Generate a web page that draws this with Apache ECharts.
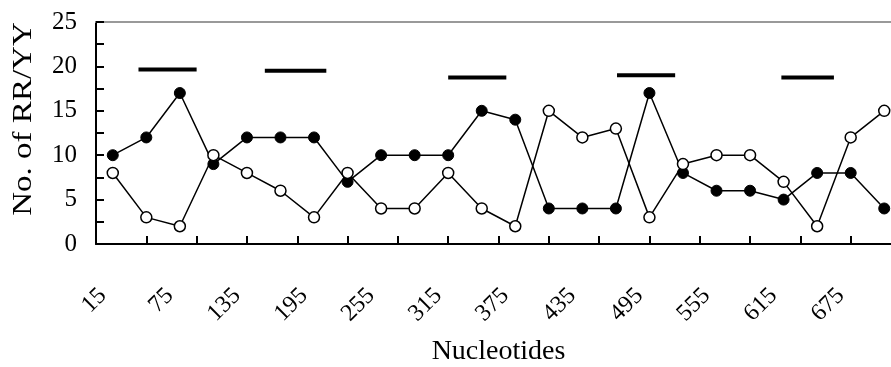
<!DOCTYPE html>
<html>
<head>
<meta charset="utf-8">
<script src="https://cdn.jsdelivr.net/npm/echarts@6/dist/echarts.min.js"></script>
<style>html,body{margin:0;padding:0;background:#fff;}#c{width:891px;height:367px;}</style>
</head>
<body>
<div id="c"></div>
<script>
// Nucleotide positions (category centres)
var positions = [15,45,75,105,135,165,195,225,255,285,315,345,375,405,435,465,495,525,555,585,615,645,675,705];
// Filled circles
var filledValues = [10,12,17,9,12,12,12,7,10,10,10,15,14,4,4,4,17,8,6,6,5,8,8,4];
// Open circles
var openValues = [8,3,2,10,8,6,3,8,4,4,8,4,2,15,12,13,3,9,10,10,7,2,12,15];
// Horizontal bars (nucleotide ranges and level)
var barStarts = [38,151,315,466,613];
var barEnds = [90,206,367,518,660];
var barLevels = [19.65,19.5,18.75,19.0,18.75];
// Axis tick labels
var xTickLabels = positions.map(String);
var yTicks = [0,5,10,15,20,25];

var FONT = 'Liberation Serif';
var chart = echarts.init(document.getElementById('c'));

var series = [];
for (var b = 0; b < barStarts.length; b++) {
  series.push({
    type: 'line', xAxisIndex: 0, yAxisIndex: 0, symbol: 'none', silent: true,
    data: [[barStarts[b], barLevels[b]], [barEnds[b], barLevels[b]]],
    lineStyle: {color: '#000', width: 4, cap: 'butt'}
  });
}
series.push({
  type: 'line', xAxisIndex: 0, yAxisIndex: 0, symbol: 'circle', symbolSize: 11,
  data: positions.map(function (p, i) { return [p, filledValues[i]]; }),
  lineStyle: {color: '#000', width: 1.5},
  itemStyle: {color: '#000', borderColor: '#000', borderWidth: 1}
});
series.push({
  type: 'line', xAxisIndex: 0, yAxisIndex: 0, symbol: 'circle', symbolSize: 11,
  data: positions.map(function (p, i) { return [p, openValues[i]]; }),
  lineStyle: {color: '#000', width: 1.5},
  itemStyle: {color: '#fff', borderColor: '#000', borderWidth: 1.5}
});
// invisible series to bind the label-only category axis on its grid
series.push({
  type: 'line', xAxisIndex: 3, yAxisIndex: 1, symbol: 'none', silent: true,
  data: xTickLabels.map(function () { return '-'; }), lineStyle: {opacity: 0}
});

chart.setOption({
  animation: false,
  backgroundColor: '#fff',
  grid: [
    {left: 96, top: 22, right: -10, bottom: 123, containLabel: false, outerBoundsMode: 'none'},
    {left: 86, top: 22, right: 0, bottom: 123, containLabel: false, outerBoundsMode: 'none'}
  ],
  xAxis: [
    {
      gridIndex: 0, type: 'value', min: 0, max: 720, interval: 45, position: 'bottom',
      axisLine: {show: true, onZero: false, lineStyle: {color: '#000', width: 2}},
      axisTick: {show: true, inside: true, length: 8, lineStyle: {color: '#000', width: 2}},
      axisLabel: {show: false}, splitLine: {show: false},
      name: 'Nucleotides', nameLocation: 'middle', nameGap: 94,
      nameTextStyle: {fontFamily: FONT, fontSize: 28, color: '#000'}
    },
    {
      gridIndex: 0, type: 'value', min: 0, max: 720, position: 'top',
      axisLine: {show: true, onZero: false, lineStyle: {color: '#999', width: 2}},
      axisTick: {show: false}, axisLabel: {show: false}, splitLine: {show: false}
    },
    {
      gridIndex: 0, type: 'value', min: 0, max: 720, position: 'top', show: false
    },
    {
      gridIndex: 1, type: 'category', data: xTickLabels, boundaryGap: true, position: 'bottom',
      axisLine: {show: false}, axisTick: {show: false}, splitLine: {show: false},
      axisLabel: {interval: 1, rotate: 45, margin: 48, fontFamily: FONT, fontSize: 24, color: '#000'}
    }
  ],
  yAxis: [{
    gridIndex: 0, type: 'value', min: 0, max: 25, interval: 2.5,
    axisLine: {show: true, onZero: false, lineStyle: {color: '#000', width: 2}},
    axisTick: {show: true, inside: true, length: 8, lineStyle: {color: '#000', width: 2}},
    splitLine: {show: false},
    axisLabel: {
      margin: 19, fontFamily: FONT, fontSize: 25, color: '#000',
      formatter: function (v) { return yTicks.indexOf(v) >= 0 ? String(v) : ''; }
    }
  }, {
    gridIndex: 1, type: 'value', min: 0, max: 25, show: false
  }],
  graphic: [{
    type: 'text', x: 24, y: 119, rotation: Math.PI / 2, scaleX: 1.18,
    style: {text: 'No. of RR/YY', font: '28px "Liberation Serif"', fill: '#000', align: 'center', verticalAlign: 'middle'}
  }],
  series: series
});
</script>
</body>
</html>
